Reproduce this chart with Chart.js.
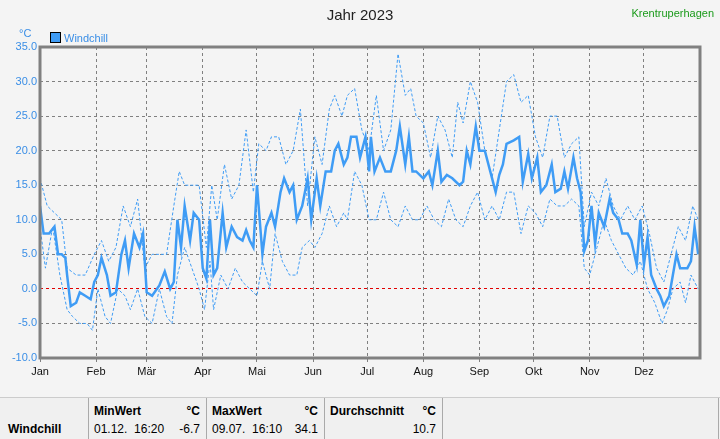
<!DOCTYPE html>
<html><head><meta charset="utf-8">
<script src="https://cdn.jsdelivr.net/npm/chart.js@4"></script>
<style>
body{margin:0;width:720px;height:439px;background:#f4f4f4;font-family:"Liberation Sans",Arial,sans-serif;position:relative;overflow:hidden}
#c{position:absolute;left:0;top:0}
.t{position:absolute;white-space:nowrap}
#tbl{position:absolute;left:0;top:397px;width:720px;height:42px;background:#f0f0f0;border-top:1px solid #ccc;font-size:12px}
.cell{position:absolute;top:0;height:42px;border-left:1px solid #aaa}
</style></head><body>
<canvas id="c" width="720" height="395"></canvas>
<div class="t" style="left:0;width:720px;text-align:center;top:6px;font-size:15px;color:#222">Jahr 2023</div>
<div class="t" style="right:6px;top:7px;font-size:11px;color:#1a9a1a">Krentruperhagen</div>
<div class="t" style="left:19px;top:27px;font-size:11px;color:#3a8ee6">°C</div>
<div class="t" style="left:50px;top:32px;font-size:11px;color:#3a8ee6"><span style="display:inline-block;width:9px;height:9px;background:#3f9cf5;border:1px solid #000;vertical-align:-1px;margin-right:3px"></span>Windchill</div>
<div id="tbl">
 <div class="cell" style="left:0;border:none;width:88px"><b style="position:absolute;left:8px;top:24px">Windchill</b></div>
 <div class="cell" style="left:88px;width:117px"><b style="position:absolute;left:5px;top:6px">MinWert</b><b style="position:absolute;right:6px;top:6px">°C</b><span style="position:absolute;left:5px;top:24px">01.12.&nbsp; 16:20</span><span style="position:absolute;right:6px;top:24px">-6.7</span></div>
 <div class="cell" style="left:206px;width:117px"><b style="position:absolute;left:5px;top:6px">MaxWert</b><b style="position:absolute;right:6px;top:6px">°C</b><span style="position:absolute;left:5px;top:24px">09.07.&nbsp; 16:10</span><span style="position:absolute;right:6px;top:24px">34.1</span></div>
 <div class="cell" style="left:324px;width:117px"><b style="position:absolute;left:5px;top:6px">Durchschnitt</b><b style="position:absolute;right:6px;top:6px">°C</b><span style="position:absolute;right:6px;top:24px">10.7</span></div>
 <div class="cell" style="left:442px;width:1px"></div>
 <div class="cell" style="left:718px;width:1px"></div>
</div>
<script>
const monthLabels=["Jan","Feb","Mär","Apr","Mai","Jun","Jul","Aug","Sep","Okt","Nov","Dez"];
const monthStarts=[0,31,59,90,120,151,181,212,243,273,304,334];
const meanDays=[0,2,5,8,10,12,14,15,17,20,22,25,28,30,32,34,37,39,42,45,47,49,52,55,57,59,62,66,69,72,74,76,78,80,83,85,88,90,92,94,96,98,101,103,106,109,112,114,116,118,120,123,125,128,130,133,135,138,140,142,145,148,150,153,155,158,161,163,165,168,170,172,175,177,180,182,183,185,188,191,194,197,199,202,204,206,208,212,215,217,220,222,225,228,232,234,236,238,241,243,246,249,252,254,256,258,262,265,267,270,272,275,277,280,283,285,288,290,292,295,297,299,301,303,305,307,309,312,315,317,320,322,325,327,330,332,334,336,338,341,343,345,348,350,352,354,356,358,360,362,364];
const meanVals=[12,8,8,9,5,5,4.5,2,-2.5,-2,-0.5,-1,-1.5,1,2,4.5,2,-1,-0.5,5,7,3,8,6,8,-0.5,-1,0.5,2.5,0,1,10,6,12,7,11,10,3,1.5,10,2,3,11,6,9,7.5,7,8.5,7,6,15,5,9,11,9,14,16,14,15,10,12,16,10,16,12,17,17,20,21,18,19,22,22,19,22,17,22,17,19,17,17,20,23.5,18,22,17,17,16,17,15,20,15.5,16.5,16,15,15.5,20,18,23.5,20,20,17,14,16.5,18,21,21.5,22,15.5,19.5,16,19,14,15,18,14,14.5,17,14.5,19,16,14,5.5,7,12,6.5,11,9,13,11,10,8,8,7,3.5,10,3.5,7.5,2,0,-1,-2.5,-1,2,5,3,3,3,4,9,5];
const maxDays=[0,4,8,12,15,20,25,30,34,38,42,46,50,54,58,62,66,70,74,77,80,84,88,92,95,98,102,106,110,114,118,121,125,128,132,136,140,144,148,152,156,160,163,167,170,174,178,182,186,190,194,198,202,205,208,212,216,220,224,228,231,234,238,242,246,250,254,258,262,266,270,274,278,282,286,290,294,298,301,305,309,313,317,321,325,329,333,337,341,345,349,353,357,361,364];
const maxVals=[16,12,11,10,3,2,2,5,7,4,6,12,9,13,3,5,5,5,12,17,15,15,15,6,15,10,18,13,15,23,14,21,20,22,22,18,20,26,12,22,18,26,28,25,28,29,23,20,28,20,23,34,28,29,25,24,19,25,23,19,27,24,30,27,20,16,23,30,31,27,28,22,19,25,25,19,21,22,9,14,12,16,12,10,12,10,12,8,3,1,5,9,7,12,10];
const minDays=[0,3,7,11,15,18,22,26,29,32,36,39,43,47,50,54,58,62,66,70,73,76,80,84,88,91,94,96,100,104,108,112,116,120,123,127,130,134,138,142,145,149,152,156,160,164,168,170,174,178,182,186,190,194,198,202,206,210,214,218,222,226,230,234,238,242,246,250,254,258,262,266,270,274,278,282,286,290,294,298,301,304,308,312,316,320,324,328,332,336,340,344,347,350,354,357,360,364];
const minVals=[9,3,9,2,-3,-4,-5,-5,-6,0,-4,-5,0,-1,-3,0,-4,-5,0,-4,-5,2,6,3,0,-3,4,-3,2,0,3,1,0,-1,4,0,8,4,2,2,6,7,6,8,12,9,11,10,17,15,10,10,14,10,9,12,10,10,12,10,9,13,10,9,12,14,10,12,10,14,14,8,12,11,9,13,12,12,13,12,3,2,6,10,7,5,3,2,4,0,-2,-5,-3,0,1,-2,2,0];
const yTicks=[-10,-5,0,5,10,15,20,25,30,35];
const pts=(d,v)=>d.map((x,i)=>({x,y:v[i]}));
const blue='#3f9cf5';
const frame={id:'frame',afterDatasetsDraw(ch){const a=ch.chartArea,c=ch.ctx;c.save();c.strokeStyle='#808080';c.lineWidth=3;c.setLineDash([]);c.strokeRect(a.left,a.top,a.right-a.left,a.bottom-a.top);c.restore();}};
new Chart(document.getElementById('c'),{
 type:'line',
 plugins:[frame],
 data:{datasets:[
  {data:pts(maxDays,maxVals),borderColor:blue,borderWidth:1,borderDash:[3,2],pointRadius:0,tension:0},
  {data:pts(minDays,minVals),borderColor:blue,borderWidth:1,borderDash:[3,2],pointRadius:0,tension:0},
  {data:pts(meanDays,meanVals),borderColor:blue,borderWidth:2.5,pointRadius:0,tension:0}
 ]},
 options:{responsive:false,animation:false,
  layout:{padding:{left:0,right:20,top:47,bottom:0}},
  plugins:{legend:{display:false},tooltip:{enabled:false}},
  scales:{
   x:{type:'linear',min:0,max:365,
    afterBuildTicks:a=>{a.ticks=monthStarts.map(v=>({value:v}));},
    afterFit:a=>{a.height=37;},
    ticks:{callback:(v)=>monthLabels[monthStarts.indexOf(v)],color:'#111',font:{size:11,family:'Liberation Sans'},maxRotation:0,autoSkip:false,padding:3},
    grid:{color:'#808080',drawTicks:true,tickLength:4,tickBorderDash:[]},
    border:{color:'#808080',width:0,dash:[3,3]}},
   y:{min:-10,max:35,
    afterBuildTicks:a=>{a.ticks=yTicks.map(v=>({value:v}));},
    afterFit:a=>{a.width=40;},
    ticks:{callback:v=>v.toFixed(1),color:'#3a8ee6',font:{size:11,family:'Liberation Sans'},padding:3},
    grid:{color:c=>c.tick&&c.tick.value===0?'#e00000':'#808080',drawTicks:false},
    border:{color:'#808080',width:0,dash:[3,3]}}
  }}
});
</script>
</body></html>
